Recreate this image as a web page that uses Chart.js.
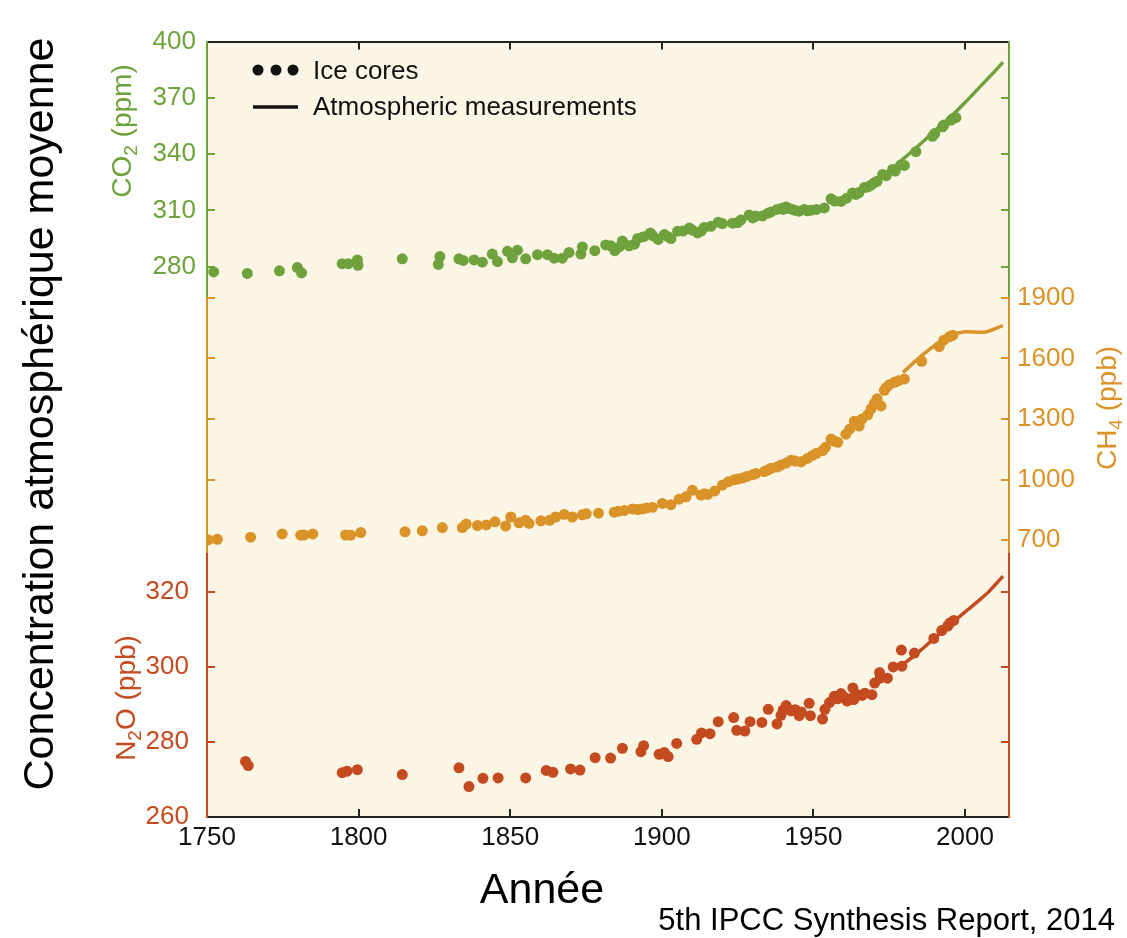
<!DOCTYPE html>
<html>
<head>
<meta charset="utf-8">
<script src="https://cdn.jsdelivr.net/npm/chart.js@4.4.1/dist/chart.umd.min.js"></script>
<style>
  html, body { margin: 0; padding: 0; background: #fff; }
  canvas { display: block; }
</style>
</head>
<body>
<canvas id="chart" width="1127" height="938"></canvas>
<script>
// ---- data ----
const co2IceYears = [1752.2,1763.3,1773.9,1779.8,1781.2,1794.6,1796.6,1799.6,1799.8,1814.4,1826.8,1826.3,1833.1,1834.5,1838.1,1840.8,1844.1,1845.8,1849.1,1850.7,1852.4,1855.1,1859.0,1862.3,1864.5,1867.2,1869.4,1873.3,1873.8,1877.9,1881.5,1883.2,1884.5,1886,1887.0,1889.2,1891,1892.0,1894,1896.2,1897,1898.8,1900.8,1902,1903.0,1905.2,1907,1909.1,1910,1911.8,1913,1914.0,1916.2,1918.6,1920,1923.3,1925,1926.1,1928.8,1930,1931,1933.2,1935,1936.0,1938,1939.8,1940,1941,1942.0,1943,1944,1945.3,1947,1948,1949.2,1951,1953.6,1955.8,1957,1959.1,1961,1962.9,1964,1965,1966.8,1968,1969,1970.1,1971,1972.8,1974,1976.1,1977,1978.9,1980,1983.8,1989.3,1990,1992.6,1993,1995.4,1996,1997.0];
const co2IceValues = [277.2,276.4,277.8,279.5,276.7,281.6,281.6,283.6,280.7,284.2,285.4,281.2,284.2,283.3,283.6,282.4,286.7,282.7,288.2,284.7,288.8,284.2,286.4,286.4,284.5,284.5,287.6,286.7,290.5,288.5,291.6,291.1,288.5,290.5,293.7,291.1,292,295.0,296,298.0,296.5,294.5,297.1,296,295.0,298.9,299,300.6,299.5,298.0,299,300.9,301.5,303.7,303,303.2,303.5,304.9,307.5,306,307,307.0,308.5,309.2,310.5,311.3,310.5,311.8,311.0,310.5,310,309.6,310.5,309.8,310.1,310.5,311.3,316.2,315,314.8,316.5,319.3,318.5,319.5,322.2,322.5,323.5,324.8,325.5,329.2,328.5,331.8,331,334.4,334,341.3,349.5,351,354.6,355.5,358.1,359,359.5];
const co2AtmYears = [1958,1960,1965,1970,1975,1980,1985,1990,1995,2000,2005,2010,2012.5];
const co2AtmValues = [315.5,317,320,325.5,331,338,345,352.5,359.5,367.5,376,384.5,389];

const ch4IceYears = [1750.4,1753.4,1764.4,1774.8,1780.9,1782.0,1784.9,1795.7,1797.4,1800.7,1815.3,1821.0,1827.6,1834.2,1835.5,1839.2,1842.1,1845.0,1848.5,1850.2,1852.9,1855.1,1856.2,1860.1,1863.0,1865.0,1867.8,1870.5,1873.8,1875.1,1879.1,1884.3,1885.5,1887.6,1890.3,1892,1893.6,1895,1896.9,1900.2,1903.0,1905.7,1908,1910.1,1912.9,1914,1915.1,1917.5,1920.0,1922,1923.9,1925,1926.6,1928,1929.9,1931,1933.8,1935,1936.0,1938,1939.3,1941,1942.6,1944,1945.9,1948,1949.7,1951,1953.0,1954,1955.8,1957,1958.0,1960.7,1962,1963.5,1965.1,1966,1967.9,1969,1970.1,1971,1972.3,1973.4,1974,1975,1976.7,1978,1980.0,1985.7,1991.5,1993,1994.8,1996];
const ch4IceValues = [702,705,715,731,725,726,731,726,725,738,742,747,763,763,780,773,776,791,770,815,786,799,783,796,799,815,828,815,826,831,834,839,843,847,855,852,855,860,863,882,876,903,915,947,924,930,927,944,973,990,999,1003,1008,1015,1024,1030,1040,1048,1056,1062,1072,1082,1096,1092,1088,1105,1120,1130,1144,1160,1201,1190,1185,1225,1250,1289,1265,1300,1321,1350,1378,1400,1365,1442,1455,1470,1482,1490,1498,1586,1659,1690,1707,1715];
const ch4AtmYears = [1979.5,1985.5,1991,1995,2000,2006.5,2012.5];
const ch4AtmValues = [1530,1611,1675,1712,1732,1730,1762];

const n2oIceYears = [1762.7,1763.6,1794.6,1796.2,1799.6,1814.4,1833.1,1836.4,1841.0,1846.0,1855.1,1861.9,1864.1,1869.9,1873.0,1878.0,1883.1,1887.0,1893.1,1894.0,1899.1,1900.8,1902.1,1904.9,1911.5,1913.1,1915.9,1918.6,1923.7,1924.7,1927.4,1929.1,1933.0,1935.1,1938.0,1939.3,1940,1941.0,1942.6,1944,1945.3,1946,1948.6,1949.0,1953.0,1953.8,1955.3,1956.9,1958,1959.1,1960,1961.1,1962,1963.0,1963.3,1964,1966.0,1967,1969.3,1970.2,1971.8,1972,1974.4,1976.3,1979.0,1979.2,1983.3,1989.7,1992.3,1994.3,1995,1996.3];
const n2oIceValues = [274.8,273.7,271.8,272.2,272.6,271.3,273.1,268.1,270.3,270.4,270.4,272.4,271.9,272.8,272.5,275.8,275.7,278.3,277.4,279.0,276.7,277.2,276.1,279.6,280.7,282.4,282.2,285.4,286.5,283.1,282.9,285.4,285.2,288.7,284.8,287.1,288.5,289.7,288.3,288.6,287.0,288,290.3,287.0,286.1,288.7,290.5,292.2,291.5,292.9,292,290.9,291.5,294.4,291.3,292.8,292.4,293,292.6,295.7,298.5,297,297.0,300.0,304.5,300.2,303.7,307.6,309.7,310.9,311.7,312.4];
const n2oAtmYears = [1978,1983,1988,1993,1997,2001,2005,2008,2012.5];
const n2oAtmValues = [299.8,302.8,306.3,309.8,312.6,315.3,318.0,320.2,324.2];

const yearTicks = [1750,1800,1850,1900,1950,2000];
const co2Ticks = [280,310,340,370,400];
const ch4Ticks = [700,1000,1300,1600,1900];
const n2oTicks = [260,280,300,320];

// ---- style ----
const GREEN = '#6fa13c';
const ORANGE = '#d99328';
const RED = '#c44a1f';
const PLOT_BG = '#fbf5e6';
const FONT = "'Liberation Sans', Arial, sans-serif";
const LEFT_W = 207, RIGHT_W = 118, TOP_H = 22, BOTTOM_H = 121;

const pts = (xs, ys) => xs.map((x, i) => ({x: x, y: ys[i]}));

function yAxis(o) {
  return {
    type: 'linear',
    position: o.position,
    stack: o.position,
    stackWeight: o.stackWeight,
    weight: o.weight,
    min: o.min,
    max: o.max,
    afterBuildTicks: s => { s.ticks = o.ticks.map(v => ({value: v})); },
    afterFit: s => { s.width = o.position === 'left' ? LEFT_W : RIGHT_W; },
    border: {color: o.color, width: 2},
    grid: {drawOnChartArea: false, color: o.color, tickLength: -8, lineWidth: 2},
    ticks: {
      display: !!o.labels, color: o.color, padding: o.padding || 0,
      autoSkip: false, font: {family: FONT, size: 26},
      callback: v => String(v)
    }
  };
}

// rotated axis titles with a real subscript
function sideTitle(ctx, parts, bx, cy, size, color) {
  const big = size + 'px ' + FONT, small = Math.round(size * 0.68) + 'px ' + FONT;
  ctx.save();
  ctx.translate(bx, cy);
  ctx.rotate(-Math.PI / 2);
  ctx.fillStyle = color;
  ctx.textBaseline = 'alphabetic';
  let total = 0;
  parts.forEach(p => { ctx.font = p[1] ? small : big; total += ctx.measureText(p[0]).width; });
  let x = -total / 2;
  parts.forEach(p => {
    ctx.font = p[1] ? small : big;
    ctx.fillText(p[0], x, p[1] ? size * 0.22 : 0);
    x += ctx.measureText(p[0]).width;
  });
  ctx.restore();
}

const decorations = {
  id: 'decorations',
  beforeDraw(chart) {
    const {ctx, chartArea: a} = chart;
    ctx.save();
    ctx.fillStyle = PLOT_BG;
    ctx.fillRect(a.left, a.top, a.right - a.left, a.bottom - a.top);
    ctx.restore();
  },
  afterDraw(chart) {
    const ctx = chart.ctx;
    sideTitle(ctx, [['CO', false], ['2', true], [' (ppm)', false]], 131, 131, 28, GREEN);
    sideTitle(ctx, [['N', false], ['2', true], ['O (ppb)', false]], 135, 698, 28, RED);
    sideTitle(ctx, [['CH', false], ['4', true], [' (ppb)', false]], 1116, 408, 28, ORANGE);

    ctx.save();
    // big left title
    ctx.translate(53, 414);
    ctx.rotate(-Math.PI / 2);
    ctx.fillStyle = '#000';
    ctx.font = '43px ' + FONT;
    ctx.textAlign = 'center';
    ctx.textBaseline = 'alphabetic';
    ctx.fillText('Concentration atmosphérique moyenne', 0, 0);
    ctx.restore();

    ctx.save();
    ctx.fillStyle = '#000';
    ctx.font = '43px ' + FONT;
    ctx.textAlign = 'center';
    ctx.fillText('Année', 542, 903);
    ctx.font = '31px ' + FONT;
    ctx.textAlign = 'right';
    ctx.fillText('5th IPCC Synthesis Report, 2014', 1115, 930);

    // legend
    ctx.fillStyle = '#111';
    [258, 276, 293].forEach(x => { ctx.beginPath(); ctx.arc(x, 70, 5.5, 0, Math.PI * 2); ctx.fill(); });
    ctx.strokeStyle = '#111';
    ctx.lineWidth = 3.5;
    ctx.beginPath(); ctx.moveTo(253, 107); ctx.lineTo(298, 107); ctx.stroke();
    ctx.font = '26px ' + FONT;
    ctx.textAlign = 'left';
    ctx.textBaseline = 'alphabetic';
    ctx.fillText('Ice cores', 313, 79);
    ctx.fillText('Atmospheric measurements', 313, 115);
    ctx.restore();
  }
};

function iceSet(xs, ys, color, axis) {
  return {data: pts(xs, ys), yAxisID: axis, backgroundColor: color, borderColor: color,
    pointRadius: 5.5, pointBorderWidth: 0, showLine: false};
}
function atmSet(xs, ys, color, axis) {
  return {data: pts(xs, ys), yAxisID: axis, borderColor: color, backgroundColor: color,
    pointRadius: 0, borderWidth: 3.5, showLine: true, tension: 0.3};
}

new Chart(document.getElementById('chart').getContext('2d'), {
  type: 'scatter',
  data: {
    datasets: [
      iceSet(co2IceYears, co2IceValues, GREEN, 'yCO2'),
      atmSet(co2AtmYears, co2AtmValues, GREEN, 'yCO2'),
      iceSet(ch4IceYears, ch4IceValues, ORANGE, 'yCH4'),
      atmSet(ch4AtmYears, ch4AtmValues, ORANGE, 'yCH4'),
      iceSet(n2oIceYears, n2oIceValues, RED, 'yN2O'),
      atmSet(n2oAtmYears, n2oAtmValues, RED, 'yN2O')
    ]
  },
  options: {
    responsive: false,
    animation: false,
    layout: {padding: 0},
    plugins: {legend: {display: false}, tooltip: {enabled: false}},
    scales: {
      x: {
        type: 'linear', position: 'bottom', min: 1750, max: 2014.5,
        afterBuildTicks: s => { s.ticks = yearTicks.map(v => ({value: v})); },
        afterFit: s => { s.height = BOTTOM_H; },
        border: {color: '#222', width: 2},
        grid: {drawOnChartArea: false, color: '#222', tickLength: -8, lineWidth: 2},
        ticks: {color: '#111', padding: 13, autoSkip: false, maxRotation: 0,
          font: {family: FONT, size: 26}, callback: v => String(v)}
      },
      xTop: {
        type: 'linear', position: 'top', min: 1750, max: 2014.5,
        afterBuildTicks: s => { s.ticks = yearTicks.map(v => ({value: v})); },
        afterFit: s => { s.height = TOP_H; },
        border: {color: '#222', width: 2},
        grid: {drawOnChartArea: false, color: '#222', tickLength: -8, lineWidth: 2},
        ticks: {display: false}
      },
      yCO2: yAxis({position: 'left', weight: 3, stackWeight: 263, min: 263.4, max: 400, ticks: co2Ticks, color: GREEN, labels: true, padding: 19}),
      yCH4L: yAxis({position: 'left', weight: 2, stackWeight: 263, min: 632, max: 1900, ticks: ch4Ticks, color: ORANGE}),
      yN2O: yAxis({position: 'left', weight: 1, stackWeight: 270, min: 260, max: 330.1, ticks: n2oTicks, color: RED, labels: true, padding: 26}),
      yCO2R: yAxis({position: 'right', weight: 1, stackWeight: 263, min: 263.4, max: 400, ticks: co2Ticks, color: GREEN}),
      yCH4: yAxis({position: 'right', weight: 2, stackWeight: 263, min: 632, max: 1900, ticks: ch4Ticks, color: ORANGE, labels: true, padding: 16}),
      yN2OR: yAxis({position: 'right', weight: 3, stackWeight: 270, min: 260, max: 330.1, ticks: n2oTicks, color: RED})
    }
  },
  plugins: [decorations]
});
</script>
</body>
</html>
